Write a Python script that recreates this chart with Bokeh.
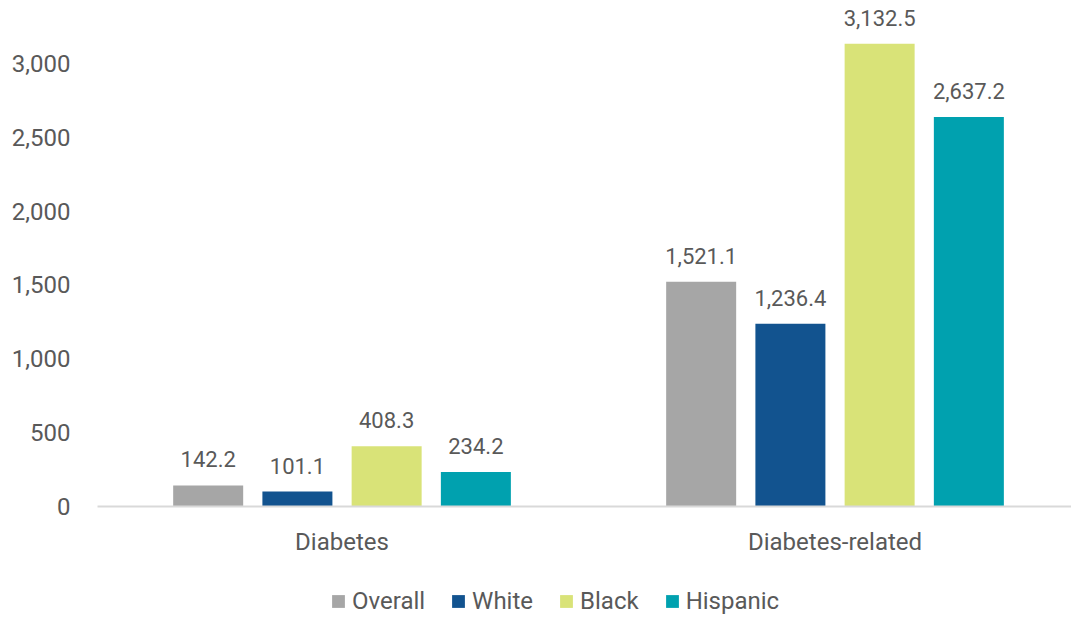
from bokeh.plotting import figure
from bokeh.models import ColumnDataSource, Legend, LegendItem, FixedTicker, NumeralTickFormatter, Range1d
from bokeh.layouts import column
from bokeh.embed import file_html
from bokeh.resources import INLINE
from bokeh.core.properties import value
import numpy as np

categories = ["Diabetes", "Diabetes-related"]
series = ["Overall", "White", "Black", "Hispanic"]
overall = [142.2, 1521.1]
white = [101.1, 1236.4]
black = [408.3, 3132.5]
hispanic = [234.2, 2637.2]
y_ticks = [0, 500, 1000, 1500, 2000, 2500, 3000]

colors = ["#A6A6A6", "#12538F", "#D9E378", "#00A1AF"]
offsets = [-0.2715, -0.0905, 0.0905, 0.2715]
bar_w = 0.142
FONT = "Roboto"
TXT = "#595959"

p = figure(width=1071, height=577, output_backend="svg", toolbar_location=None,
           x_range=Range1d(0.004, 1.9797), y_range=Range1d(0, 3385),
           min_border_left=97, min_border_right=0, min_border_top=6, min_border_bottom=71)
p.outline_line_color = None
p.grid.visible = False
p.background_fill_color = "white"
p.border_fill_color = "white"

centers = np.arange(len(categories)) + 0.5
sources = []
for name, vals, col, off in zip(series, [overall, white, black, hispanic], colors, offsets):
    src = ColumnDataSource(dict(x=centers + off, top=vals,
                                lab=[f"{v:,.1f}" for v in vals]))
    sources.append(src)
    p.vbar(x="x", top="top", width=bar_w, source=src, fill_color=col, line_color=None)
    p.text(x="x", y="top", text="lab", source=src, text_align="center", text_baseline="alphabetic",
           y_offset=-26, text_font=value(FONT), text_font_size="22px", text_color=TXT)

# axes
p.xaxis.ticker = FixedTicker(ticks=list(centers))
p.xaxis.major_label_overrides = {float(c): cat for c, cat in zip(centers, categories)}
p.xaxis.major_tick_line_color = None
p.xaxis.minor_tick_line_color = None
p.xaxis.major_tick_out = 0
p.xaxis.axis_line_color = "#D9D9D9"
p.xaxis.axis_line_width = 2
p.xaxis.major_label_text_font = FONT
p.xaxis.major_label_text_font_size = "24px"
p.xaxis.major_label_text_color = TXT
p.xaxis.major_label_standoff = 21

p.yaxis.ticker = FixedTicker(ticks=y_ticks)
p.yaxis.formatter = NumeralTickFormatter(format="0,0")
p.yaxis.axis_line_color = None
p.yaxis.major_tick_line_color = None
p.yaxis.minor_tick_line_color = None
p.yaxis.major_tick_out = 0
p.yaxis.major_label_text_font = FONT
p.yaxis.major_label_text_font_size = "24px"
p.yaxis.major_label_text_color = TXT
p.yaxis.major_label_standoff = 27

# legend strip (frame aligned with main plot's frame by the column layout)
lf = figure(width=1071, height=40, output_backend="svg", toolbar_location=None,
            x_range=Range1d(-101, -100), y_range=Range1d(-10, -9),
            min_border_left=97, min_border_right=0, min_border_top=0, min_border_bottom=0)
lf.outline_line_color = None
lf.axis.visible = False
lf.grid.visible = False
items = []
for name, col, src in zip(series, colors, sources):
    # proxy bars lie fully outside the visible ranges; they only feed the legend swatches
    r = lf.vbar(x="x", top="top", width=bar_w, source=src, fill_color=col, line_color=None)
    items.append(LegendItem(label=name, renderers=[r]))
legend = Legend(items=items, orientation="horizontal", location=(233, 2),
                glyph_width=16, glyph_height=16, label_standoff=6, spacing=25,
                label_height=24, label_text_font=FONT, label_text_font_size="24px",
                label_text_color=TXT, label_text_baseline="middle",
                padding=0, margin=0, border_line_color=None, background_fill_alpha=0)
lf.add_layout(legend, "center")

layout = column(p, lf, spacing=0)
open("out.html", "w").write(file_html(layout, INLINE))
